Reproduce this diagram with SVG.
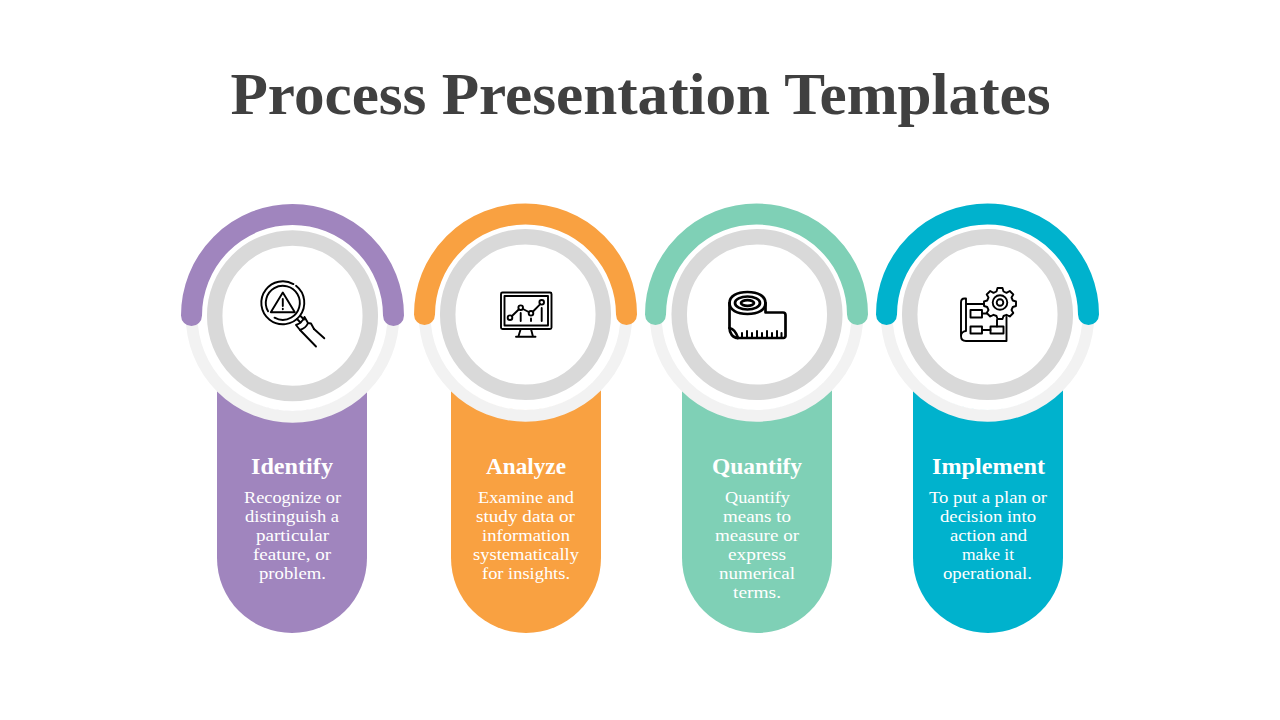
<svg xmlns="http://www.w3.org/2000/svg" width="1280" height="720" viewBox="0 0 1280 720">
<style>
.title{font:bold 59px "Liberation Serif",serif;fill:#404040;text-anchor:middle}
.head{font:bold 23px "Liberation Serif",serif;fill:#fff;text-anchor:middle}
.body{font:17px "Liberation Serif",serif;fill:#fff;text-anchor:middle}
.light{fill:none;stroke:#f2f2f2;stroke-width:12.5}
.hole{fill:#fff}
.gray{fill:#fff;stroke:#d9d9d9;stroke-width:15.5}
.arc{fill:none;stroke-width:21;stroke-linecap:round}
.ic{fill:none;stroke:#000;stroke-width:1.9;stroke-linecap:round;stroke-linejoin:round}
.thick{stroke-width:2.7}
</style>
<rect width="1280" height="720" fill="#fff"/>
<text class="title" x="640.500" y="114" textLength="820" lengthAdjust="spacingAndGlyphs">Process Presentation Templates</text>

<g id="node-identify">
<path fill="#a085be" d="M217 385H367V558A75 75 0 0 1 217 558Z"/>
<circle cx="292.500" cy="316" r="100.500" class="light"/><circle cx="292.500" cy="316" r="95" class="hole"/>
<path class="arc" stroke="#a085be" d="M191.500 315.500A100.500 100.500 0 0 1 393.500 315.500"/>
<circle cx="292.500" cy="315.700" r="77.800" class="gray"/>
<g class="ic">
<circle cx="282.800" cy="302.800" r="21.500" stroke-dasharray="131 4" transform="rotate(-52 282.800 302.800)"/>
<circle cx="282.800" cy="302.800" r="17" stroke-dasharray="97 10" transform="rotate(150 282.800 302.800)"/>
<path d="M282.800 292.500L270.800 312.300H294.800Z"/><path d="M282.800 299V306M282.800 308.800V309.200"/>
<path d="M297 319L300.500 322.500M300.500 316L304 319.500"/>
<path d="M296 325L300 330Q306 328 308 323L311 323.500L314 329M296 325Q302 323 304.500 317L308 323"/>
<path d="M300 330L316 346.500M314 329L324.300 338.300"/>
</g>
<text class="head" x="292" y="474" textLength="82" lengthAdjust="spacingAndGlyphs">Identify</text>
<text class="body" x="292.500" y="503" textLength="97" lengthAdjust="spacingAndGlyphs">Recognize or</text>
<text class="body" x="292" y="522" textLength="94" lengthAdjust="spacingAndGlyphs">distinguish a</text>
<text class="body" x="292.500" y="541" textLength="73" lengthAdjust="spacingAndGlyphs">particular</text>
<text class="body" x="292" y="560" textLength="78" lengthAdjust="spacingAndGlyphs">feature, or</text>
<text class="body" x="292.500" y="579" textLength="67" lengthAdjust="spacingAndGlyphs">problem.</text>
</g>

<g id="node-analyze">
<path fill="#f9a141" d="M451 385H601V558A75 75 0 0 1 451 558Z"/>
<circle cx="525.500" cy="315" r="100.500" class="light"/><circle cx="525.500" cy="315" r="95" class="hole"/>
<path class="arc" stroke="#f9a141" d="M424.500 314.500A101 100.500 0 0 1 626.500 314.500"/>
<circle cx="525.500" cy="314.500" r="77.800" class="gray"/>
<g class="ic">
<rect x="501" y="292.500" width="50.500" height="36.500" rx="1.500"/>
<rect x="504.500" y="296" width="43.500" height="29.500"/>
<path d="M520.700 329L518.300 336.700M531 329L533 336.700M516 336.700H535.500"/>
<circle cx="510" cy="317.700" r="2.300"/><circle cx="520.700" cy="307.700" r="2.300"/><circle cx="531" cy="313.300" r="2.300"/><circle cx="541.700" cy="302.300" r="2.300"/>
<path d="M512 316L518.700 309.500M523 309L528.700 312M533 311.500L540 304.300"/>
<path d="M520.700 313V321M531 318.500V321M541.700 308V321"/>
</g>
<text class="head" x="526" y="474" textLength="80" lengthAdjust="spacingAndGlyphs">Analyze</text>
<text class="body" x="526" y="503" textLength="96" lengthAdjust="spacingAndGlyphs">Examine and</text>
<text class="body" x="525.500" y="522" textLength="99" lengthAdjust="spacingAndGlyphs">study data or</text>
<text class="body" x="526" y="541" textLength="88" lengthAdjust="spacingAndGlyphs">information</text>
<text class="body" x="526" y="560" textLength="106" lengthAdjust="spacingAndGlyphs">systematically</text>
<text class="body" x="526" y="579" textLength="88" lengthAdjust="spacingAndGlyphs">for insights.</text>
</g>

<g id="node-quantify">
<path fill="#7fd0b6" d="M682 385H832V558A75 75 0 0 1 682 558Z"/>
<circle cx="756.500" cy="315" r="100.500" class="light"/><circle cx="756.500" cy="315" r="95" class="hole"/>
<path class="arc" stroke="#7fd0b6" d="M655.500 314.500A101 100.500 0 0 1 857.500 314.500"/>
<circle cx="757" cy="314.500" r="77.800" class="gray"/>
<g class="ic thick">
<path d="M729.500 303C729.500 296 737 292 747.500 292C758 292 765.500 296 765.500 303V312.500H783C784.500 312.500 785.500 313.500 785.500 315V336C785.500 337 784.500 338 783.500 338H738C733 338 729.500 333.500 729.500 328Z"/>
<path d="M729.500 303C729.500 310 737 314 747.500 314C758 314 765.500 310 765.500 303"/>
<ellipse cx="747.500" cy="303" rx="12.500" ry="6.500"/><ellipse cx="747.500" cy="303" rx="6.500" ry="2.800"/>
<path d="M729.500 328C734 329 736.500 333 738 338"/>
<path stroke-width="2" d="M742 333V338M747 331V338M752 333V338M757 331V338M762 333V338M767 331V338M772 333V338M777 331V338M781.500 333V338"/>
</g>
<text class="head" x="757" y="474" textLength="90" lengthAdjust="spacingAndGlyphs">Quantify</text>
<text class="body" x="757.500" y="503" textLength="65" lengthAdjust="spacingAndGlyphs">Quantify</text>
<text class="body" x="757" y="522" textLength="68" lengthAdjust="spacingAndGlyphs">means to</text>
<text class="body" x="757" y="541" textLength="84" lengthAdjust="spacingAndGlyphs">measure or</text>
<text class="body" x="757" y="560" textLength="58" lengthAdjust="spacingAndGlyphs">express</text>
<text class="body" x="757" y="579" textLength="76" lengthAdjust="spacingAndGlyphs">numerical</text>
<text class="body" x="757" y="598" textLength="48" lengthAdjust="spacingAndGlyphs">terms.</text>
</g>

<g id="node-implement">
<path fill="#00b2cd" d="M913 385H1063V558A75 75 0 0 1 913 558Z"/>
<circle cx="987.500" cy="315" r="100.500" class="light"/><circle cx="987.500" cy="315" r="95" class="hole"/>
<path class="arc" stroke="#00b2cd" d="M886.500 314.500A101 100.500 0 0 1 1088.500 314.500"/>
<circle cx="987.500" cy="314.500" r="77.800" class="gray"/>
<g class="ic">
<path d="M966 304V298.500H964.500C962.500 298.500 961 300 961 302.500V336C961 339 963 341 966 341H1006.500V317M966 304H984M966 304V331C963.500 331 961 333 961 336"/>
<rect x="970.500" y="310" width="11.500" height="7.500"/><path d="M982 313.500H986.500"/>
<rect x="970.500" y="326.500" width="11.500" height="7"/><rect x="990.500" y="326.500" width="13" height="7"/>
<path d="M982 330H990.500M997 326.500V320"/>
<circle cx="1000" cy="302.500" r="7.300"/><circle cx="1000" cy="302.500" r="3.300"/>
<path d="M997.500 288H1002.500L1003.500 291.500L1006.500 292.800L1009.800 291L1013.300 294.500L1011.500 297.500L1012.800 300.500L1016 301.500V306L1012.800 307L1011.500 310L1013.300 313L1009.800 316.500L1006.500 314.800L1003.500 316L1002.500 319H997.500L996.500 316L993.500 314.800L990.200 316.500L986.700 313L988.500 310L987.200 307L984 306V301.500L987.200 300.500L988.500 297.500L986.700 294.500L990.200 291L993.500 292.800L996.500 291.500Z"/>
</g>
<text class="head" x="988.500" y="474" textLength="113" lengthAdjust="spacingAndGlyphs">Implement</text>
<text class="body" x="988" y="503" textLength="118" lengthAdjust="spacingAndGlyphs">To put a plan or</text>
<text class="body" x="988" y="522" textLength="96" lengthAdjust="spacingAndGlyphs">decision into</text>
<text class="body" x="988.500" y="541" textLength="77" lengthAdjust="spacingAndGlyphs">action and</text>
<text class="body" x="988" y="560" textLength="52" lengthAdjust="spacingAndGlyphs">make it</text>
<text class="body" x="987.500" y="579" textLength="89" lengthAdjust="spacingAndGlyphs">operational.</text>
</g>
<g id="connectors"/>
</svg>
